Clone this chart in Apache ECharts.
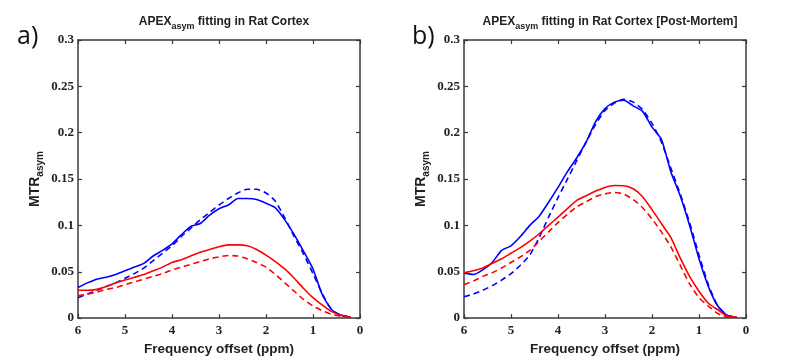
<!DOCTYPE html>
<html>
<head>
<meta charset="utf-8">
<script src="https://cdn.jsdelivr.net/npm/echarts@6/dist/echarts.min.js"></script>
<style>
html,body{margin:0;padding:0;background:#fff;}
#chart{width:793px;height:361px;}
</style>
</head>
<body>
<div id="chart"></div>
<script>
// Frequency offset (ppm) sample positions shared by all curves
var ppm = [6.0,5.8,5.6,5.4,5.2,5.0,4.8,4.6,4.4,4.2,4.0,3.8,3.6,3.4,3.2,3.0,2.8,2.6,2.4,2.2,2.0,1.8,1.6,1.4,1.2,1.0,0.8,0.6,0.4,0.2];

// Panel a) APEXasym fitting in Rat Cortex
var aBlueSolid  = [0.033,0.038,0.042,0.044,0.047,0.051,0.055,0.059,0.067,0.073,0.080,0.090,0.099,0.102,0.111,0.118,0.122,0.129,0.129,0.128,0.124,0.119,0.106,0.090,0.072,0.053,0.025,0.009,0.003,0.001];
var aBlueDashed = [0.022,0.026,0.030,0.034,0.038,0.043,0.048,0.054,0.062,0.070,0.078,0.088,0.097,0.106,0.114,0.122,0.129,0.135,0.139,0.139,0.135,0.126,0.108,0.088,0.069,0.048,0.026,0.009,0.003,0.001];
var aRedSolid   = [0.030,0.030,0.031,0.034,0.038,0.041,0.044,0.047,0.051,0.055,0.060,0.063,0.067,0.071,0.074,0.077,0.079,0.079,0.078,0.074,0.068,0.061,0.053,0.043,0.032,0.022,0.014,0.007,0.003,0.001];
var aRedDashed  = [0.024,0.026,0.028,0.031,0.033,0.036,0.039,0.042,0.045,0.048,0.052,0.055,0.058,0.061,0.064,0.066,0.0675,0.067,0.064,0.060,0.055,0.047,0.038,0.029,0.020,0.013,0.008,0.004,0.002,0.001];

// Panel b) APEXasym fitting in Rat Cortex [Post-Mortem]
var bBlueSolid  = [0.0485,0.047,0.052,0.060,0.073,0.078,0.088,0.100,0.110,0.125,0.141,0.158,0.173,0.190,0.212,0.226,0.233,0.235,0.229,0.223,0.206,0.193,0.158,0.132,0.100,0.064,0.034,0.013,0.003,0.001];
var bBlueDashed = [0.023,0.026,0.030,0.035,0.041,0.048,0.057,0.068,0.087,0.109,0.130,0.150,0.170,0.190,0.209,0.224,0.232,0.236,0.233,0.225,0.210,0.190,0.162,0.134,0.103,0.068,0.036,0.013,0.003,0.001];
var bRedSolid   = [0.049,0.051,0.054,0.059,0.064,0.070,0.076,0.083,0.091,0.100,0.109,0.118,0.127,0.132,0.137,0.141,0.143,0.1428,0.1395,0.131,0.117,0.102,0.087,0.065,0.045,0.029,0.016,0.009,0.002,0.001];
var bRedDashed  = [0.036,0.040,0.045,0.049,0.054,0.060,0.066,0.073,0.083,0.093,0.103,0.112,0.120,0.1255,0.131,0.134,0.1355,0.1338,0.128,0.119,0.107,0.093,0.077,0.057,0.037,0.022,0.013,0.005,0.001,0.001];

var xTicks = [6,5,4,3,2,1,0];
var yTicks = [0,0.05,0.1,0.15,0.2,0.25,0.3];
var titles = ['a', 'b'];

var BLUE = '#0000ff', RED = '#ff0000', AX = '#3a3a3a';
function pairs(ys){ return ppm.map(function(x,i){ return [x, ys[i]]; }); }

var grids = [
  {left:78, top:40, width:282, height:282},
  {left:464, top:40, width:282, height:282}
];

var xAxes = [], yAxes = [], series = [];
var axisLineStyle = {color:AX, width:1.5};
var tickLabel = {fontFamily:'Liberation Serif', fontWeight:'bold', fontSize:13, color:'#222'};
var subRich = {
  m:{fontFamily:'Liberation Sans', fontWeight:'bold', fontSize:14, color:'#222', lineHeight:22},
  s:{fontFamily:'Liberation Sans', fontWeight:'bold', fontSize:10, color:'#222', padding:[10,0,0,0]}
};
for (var g=0; g<2; g++){
  xAxes.push({gridIndex:g, type:'value', min:xTicks[xTicks.length-1], max:xTicks[0], interval:1, inverse:true, position:'bottom',
    axisLine:{show:true, onZero:false, lineStyle:axisLineStyle},
    axisTick:{show:true, inside:true, length:4, lineStyle:{color:AX, width:1.2}},
    axisLabel:Object.assign({margin:6}, tickLabel),
    splitLine:{show:false},
    name:'Frequency offset (ppm)', nameLocation:'middle', nameGap:19,
    nameTextStyle:{fontFamily:'Liberation Sans', fontWeight:'bold', fontSize:13.5, color:'#222'}
  });
  xAxes.push({gridIndex:g, type:'value', min:0, max:6, interval:1, inverse:true, position:'top',
    axisLine:{show:true, onZero:false, lineStyle:axisLineStyle},
    axisTick:{show:true, inside:true, length:4, lineStyle:{color:AX, width:1.2}},
    axisLabel:{show:false}, splitLine:{show:false}
  });
  yAxes.push({gridIndex:g, type:'value', min:yTicks[0], max:yTicks[yTicks.length-1], interval:0.05, position:'left',
    axisLine:{show:true, onZero:false, lineStyle:axisLineStyle},
    axisTick:{show:true, inside:true, length:4, lineStyle:{color:AX, width:1.2}},
    axisLabel:Object.assign({margin:4}, tickLabel),
    splitLine:{show:false},
    name:'{m|MTR}{s|asym}', nameLocation:'middle', nameGap:32, nameRotate:90,
    nameTextStyle:{rich:subRich}
  });
  yAxes.push({gridIndex:g, type:'value', min:0, max:0.3, interval:0.05, position:'right',
    axisLine:{show:true, onZero:false, lineStyle:axisLineStyle},
    axisTick:{show:true, inside:true, length:4, lineStyle:{color:AX, width:1.2}},
    axisLabel:{show:false}, splitLine:{show:false}
  });
}

var panels = [
  [aBlueSolid, aBlueDashed, aRedSolid, aRedDashed],
  [bBlueSolid, bBlueDashed, bRedSolid, bRedDashed]
];
var styles = [[BLUE,'solid'],[BLUE,'dashed'],[RED,'solid'],[RED,'dashed']];
panels.forEach(function(arrs, g){
  arrs.forEach(function(ys, k){
    series.push({type:'line', xAxisIndex:2*g, yAxisIndex:2*g, data:pairs(ys), showSymbol:false, smooth:0.2,
      silent:true, animation:false,
      lineStyle:{color:styles[k][0], width:1.6, type:styles[k][1]==='dashed'?[6,4]:'solid'}});
  });
});

var titleRich = {
  t:{fontFamily:'Liberation Sans', fontWeight:'bold', fontSize:12, color:'#222', lineHeight:20},
  s:{fontFamily:'Liberation Sans', fontWeight:'bold', fontSize:9, color:'#222', padding:[9,0,0,0]}
};

var option = {
  backgroundColor:'#fff',
  animation:false,
  title:[
    {text:'{t|APEX}{s|asym}{t| fitting in Rat Cortex}', left:219, top:7, textAlign:'center', textStyle:{rich:titleRich}},
    {text:'{t|APEX}{s|asym}{t| fitting in Rat Cortex [Post-Mortem]}', left:605, top:7, textAlign:'center', textStyle:{rich:titleRich}}
  ],
  graphic:[
    {type:'text', left:17, top:24, style:{text:titles[0]+')', fontFamily:'Open Sans', fontSize:25, fill:'#111'}},
    {type:'text', left:412, top:24, style:{text:titles[1]+')', fontFamily:'Open Sans', fontSize:25, fill:'#111'}}
  ],
  grid:grids,
  xAxis:xAxes,
  yAxis:yAxes,
  series:series
};
var chart = echarts.init(document.getElementById('chart'), null, {renderer:'canvas'});
chart.setOption(option);
</script>
</body>
</html>
